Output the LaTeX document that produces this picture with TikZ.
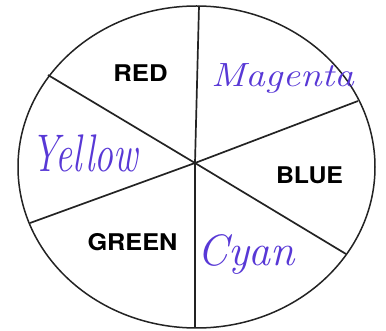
\documentclass[tikz,border=0pt]{standalone}
\usepackage{fontspec}
\newfontfamily\labfont{TeX Gyre Heros}
\definecolor{ink}{RGB}{88,56,214}
\definecolor{lineclr}{RGB}{35,35,35}
\tikzset{
  rim/.style={draw=lineclr, line width=1.5pt},
  spoke/.style={draw=lineclr, line width=1.7pt},
  caplabel/.style={inner sep=0pt, anchor=center, text=black, font=\labfont\bfseries},
  handlabel/.style={inner sep=0pt, anchor=base west, text=ink, font=\itshape}
}
\begin{document}
\begin{tikzpicture}[x=1pt, y=-1pt]
  \useasboundingbox (0,0) rectangle (386,331);
  \fill[white] (0,0) rectangle (386,331);
  % rim
  \draw[rim] (196.5,167) ellipse [x radius=178.5, y radius=161];
  % centre and rim points
  \coordinate (c) at (195,163);
  \coordinate (top) at (199,6);
  \coordinate (bot) at (195,328);
  \coordinate (ul) at (48,75);
  \coordinate (ur) at (358,101);
  \coordinate (ll) at (30,223);
  \coordinate (lr) at (346,254);
  % spokes
  \draw[spoke] (c) -- (top);
  \draw[spoke] (c) -- (bot);
  \draw[spoke] (c) -- (ul);
  \draw[spoke] (c) -- (ur);
  \draw[spoke] (c) -- (ll);
  \draw[spoke] (c) -- (lr);
  % printed labels
  \node[caplabel] (red) at (140.5,73.5) {\fontsize{23}{23}\selectfont\scalebox{1.12}[1]{RED}};
  \node[caplabel] (blue) at (309.5,175) {\fontsize{23}{23}\selectfont\scalebox{1.08}[1]{BLUE}};
  \node[caplabel] (green) at (132.5,242.5) {\fontsize{23}{23}\selectfont\scalebox{1.1}[1]{GREEN}};
  % handwritten labels
  \node[handlabel] (magenta) at (211,87) {\fontsize{32}{32}\selectfont\scalebox{1.22}[1.05]{Magenta}};
  \node[handlabel] (yellow) at (31,172) {\fontsize{46}{46}\selectfont\scalebox{0.82}[1.15]{Yellow}};
  \node[handlabel] (cyan) at (197,266) {\fontsize{44}{44}\selectfont Cyan};
\end{tikzpicture}
\end{document}
